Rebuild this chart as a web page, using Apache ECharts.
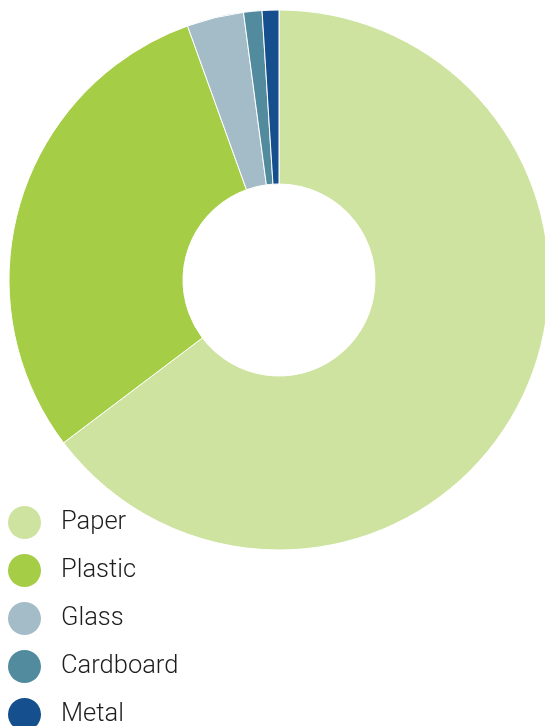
<!DOCTYPE html>
<html>
<head>
<meta charset="utf-8">
<script src="https://cdn.jsdelivr.net/npm/echarts@6/dist/echarts.min.js"></script>
<style>
  html, body { margin: 0; padding: 0; background: #fff; }
  #chart { width: 545px; height: 726px; }
</style>
</head>
<body>
<div id="chart"></div>
<script>
const materials = ['Paper', 'Plastic', 'Glass', 'Cardboard', 'Metal']
const shares = [64.7, 29.8, 3.4, 1.1, 1.0]
const colors = ['#cfe3a0', '#a5cd45', '#a4bcc7', '#528b9e', '#154f8d']

const chart = echarts.init(document.getElementById('chart'))
const option = {
  animation: false,
  color: colors,
  legend: {
    orient: 'vertical',
    left: 8,
    top: 506,
    height: 300,
    padding: 0,
    icon: 'circle',
    itemWidth: 33,
    itemHeight: 33,
    itemGap: 15,
    selectedMode: false,
    itemStyle: { borderWidth: 0 },
    textStyle: {
      fontFamily: 'Roboto',
      fontWeight: 300,
      fontSize: 25.5,
      lineHeight: 33,
      color: '#1e1e1e',
      padding: [0, 0, 0, 15],
    },
    data: materials,
  },
  series: [
    {
      type: 'pie',
      center: [279, 280],
      radius: [96, 270],
      startAngle: 90,
      clockwise: true,
      label: { show: false },
      labelLine: { show: false },
      emphasis: { disabled: true },
      itemStyle: {
        borderColor: '#fff',
        borderWidth: 1,
      },
      data: materials.map((m, i) => ({ name: m, value: shares[i] })),
    },
  ],
}
chart.setOption(option)
</script>
</body>
</html>
